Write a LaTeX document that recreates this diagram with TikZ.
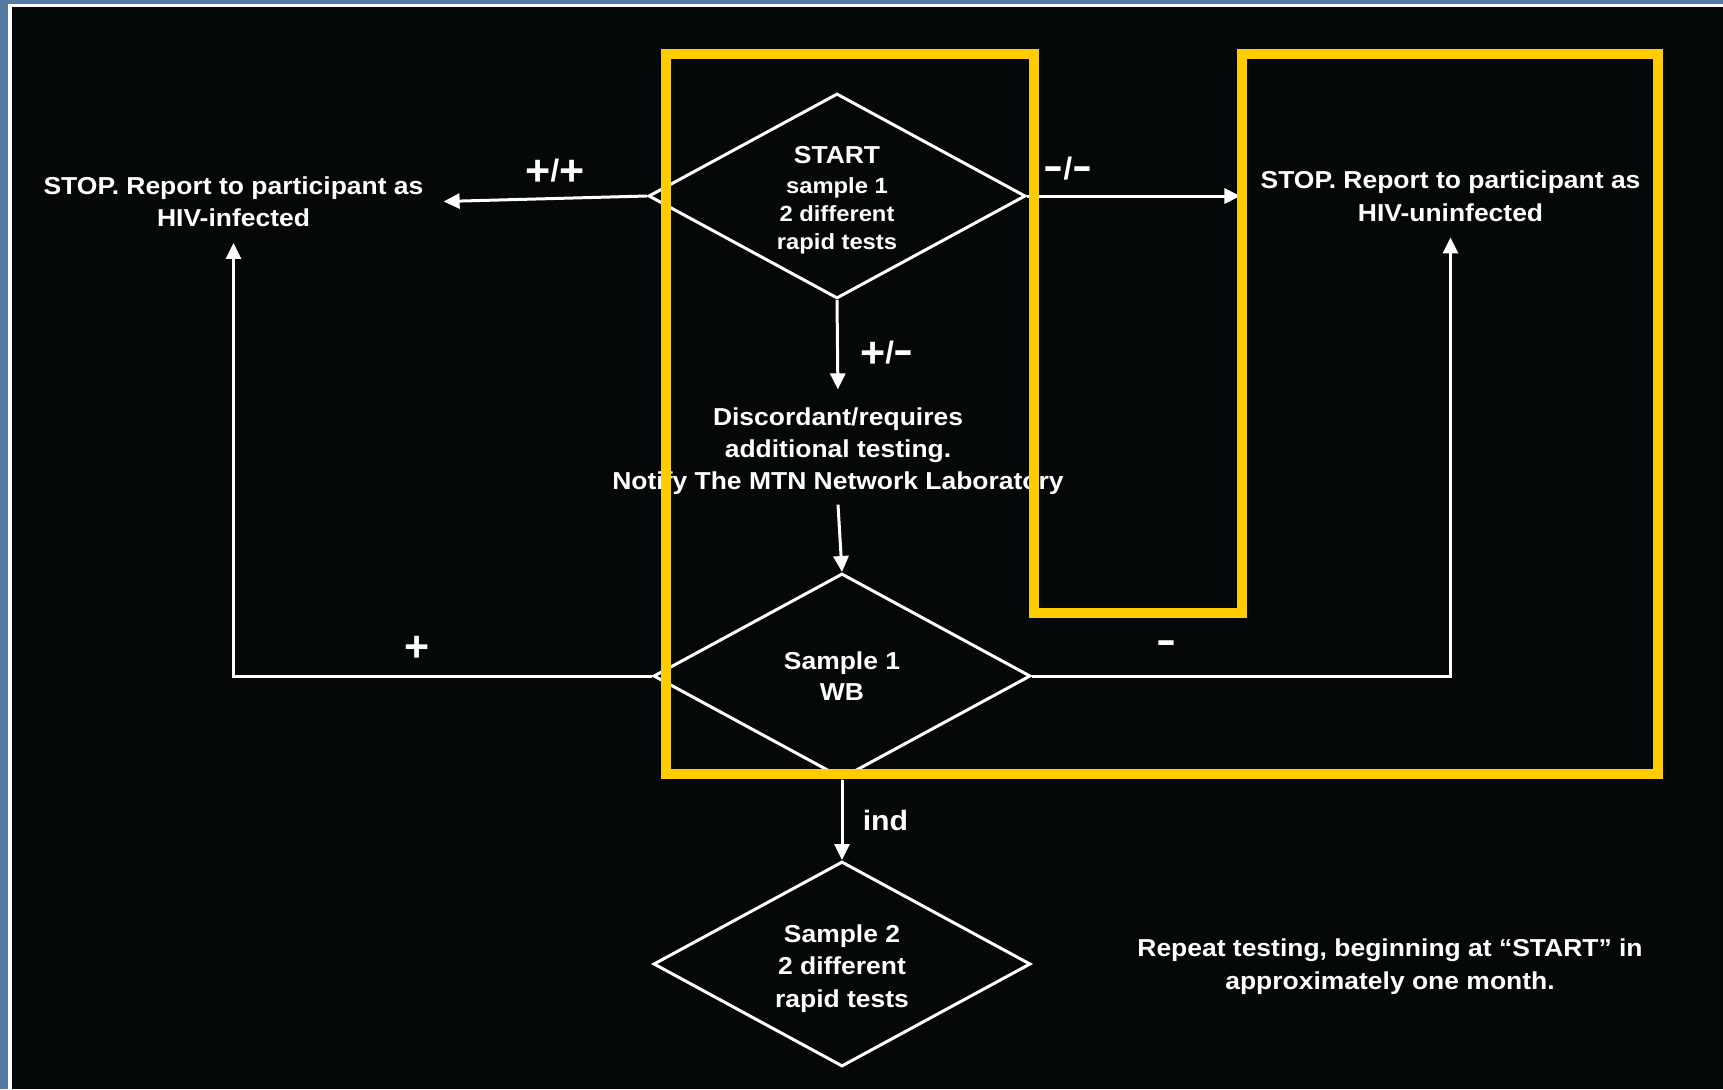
\documentclass[tikz,border=0pt]{standalone}
\usepackage{fontspec}
\usepackage{graphicx}
\setmainfont{Liberation Sans}[FakeStretch=1.08]
\newfontfamily\plainsans{Liberation Sans}
\usetikzlibrary{shapes.geometric,arrows.meta}
\definecolor{bgblue}{HTML}{557AA2}
\definecolor{bgblack}{HTML}{050809}
\definecolor{gold}{HTML}{FFCC00}
\newcommand\fsz[2]{\fontsize{#1}{#2}\selectfont}
\newcommand\bplus{{\fsz{43}{43}\raisebox{-4pt}{+}}}
\newcommand\bminus{{\fsz{40}{40}\scalebox{1.5}[1]{-}}}
\tikzset{
  every node/.style={text=white},
  decision/.style={diamond, draw=white, line width=3pt, inner sep=0pt,
    shape aspect=1.84, minimum width=377pt, minimum height=205pt, align=center},
  info/.style={align=center, inner xsep=20pt, inner ysep=16pt},
  lbl/.style={font=\bfseries\plainsans\fsz{31}{31}, inner sep=0pt, anchor=base},
  flow/.style={draw=white, line width=3pt, -{Triangle[length=16pt,width=15pt]}},
  goldframe/.style={draw=gold, line width=10pt, line join=miter}
}
\begin{document}
\begin{tikzpicture}[x=1pt,y=-1pt]
\useasboundingbox (0,0) rectangle (1723,1089);
\fill[bgblue] (0,0) rectangle (1723,1089);
\fill[white] (8,4) rectangle (1723,1089);
\fill[bgblack] (12,7.5) rectangle (1723,1089);

% decision diamonds
\node[decision, font=\bfseries\fsz{22}{28}] (start) at (837,196)
  {\rule{0pt}{25pt}{\fsz{24.5}{30}START}\\[2pt] sample 1\\ 2 different\\ rapid tests};
\node[decision, font=\bfseries\fsz{24.5}{31}] (s1) at (842,676) {Sample 1\\ WB};
\node[decision, font=\bfseries\fsz{24.5}{32.5}] (s2) at (842,964)
  {\rule{0pt}{27pt}Sample 2\\ 2 different\\ rapid tests};

% text boxes
\node[info, font=\bfseries\fsz{24.5}{32.5}] (stopL) at (233.5,201.5)
  {STOP. Report to participant as\\ HIV-infected};
\node[info, font=\bfseries\fsz{24.5}{32.5}] (stopR) at (1450.5,196)
  {STOP. Report to participant as\\ HIV-uninfected};
\node[info, inner ysep=10pt, font=\bfseries\fsz{24.5}{32}] (disc) at (838,451)
  {Discordant/requires\\ additional testing.\\ Notify The MTN Network Laboratory};
\node[align=center, font=\bfseries\fsz{24.5}{33}] (repeat) at (1390,966.5)
  {Repeat testing, beginning at \textquotedblleft START\textquotedblright\ in\\ approximately one month.};

% connectors
\draw[flow] (start.west) -- (stopL.east);
\draw[flow] (start.east) -- (stopR.west);
\draw[flow, shorten >=8pt] (start.south) -- (disc.north);
\draw[flow] (disc.south) -- (s1.north);
\draw[flow] (s1.west) -| (stopL.south);
\draw[flow] (s1.east) -| (stopR.south);
\draw[flow] (s1.south) -- (s2.north);

% labels
\node[lbl] (lpp) at (555,181) {\bplus/\bplus};
\node[lbl] (lmm) at (1068,179) {\bminus/\bminus};
\node[lbl] (lpm) at (887,363.5) {\bplus/\bminus};
\node[lbl] (lp) at (416.7,657.7) {\bplus};
\node[lbl] (lm) at (1166.3,653) {\bminus};
\node[lbl, font=\bfseries\fsz{28}{28}] (lind) at (885.5,830) {ind};

% yellow frame
\draw[goldframe] (666,54) -- (1033.5,54) -- (1033.5,613) -- (1241.5,613)
  -- (1241.5,54) -- (1658,54) -- (1658,774) -- (666,774) -- cycle;
\end{tikzpicture}
\end{document}
